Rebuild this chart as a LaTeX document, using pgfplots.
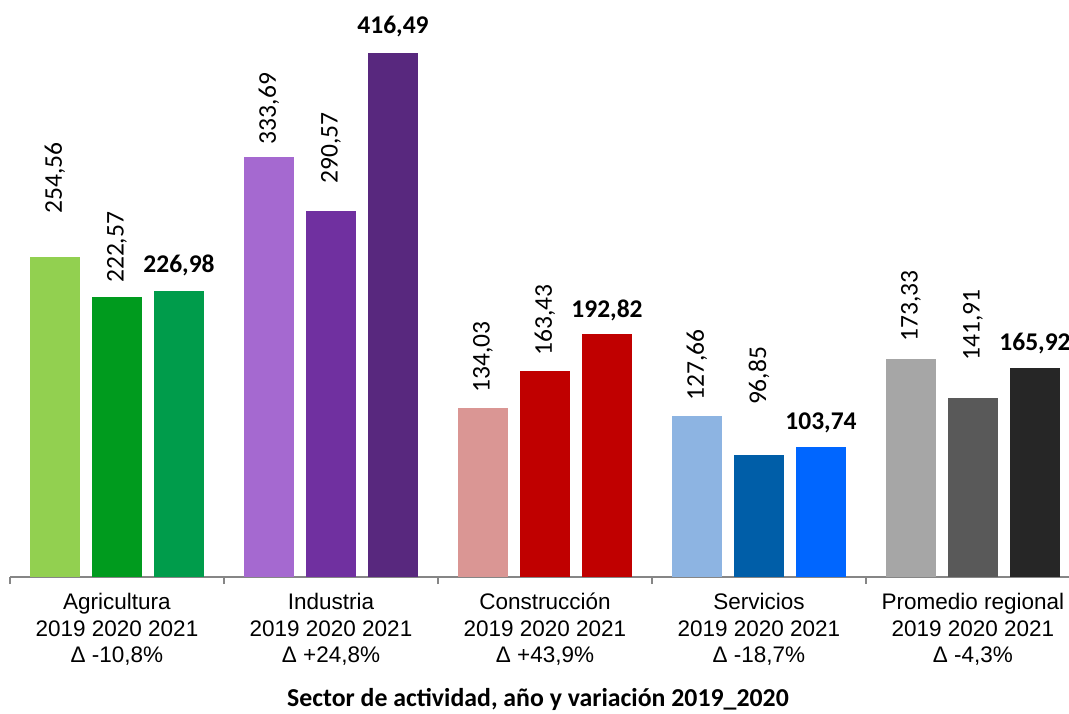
\documentclass[border=0pt]{standalone}
\usepackage{pgfplots}
\pgfplotsset{compat=1.18}
\usepackage{fontspec}
\setmainfont{Liberation Sans}
\newfontfamily\calib{Carlito}
\definecolor{axgray}{RGB}{134,134,134}
\definecolor{agA}{RGB}{146,208,80}
\definecolor{agB}{RGB}{0,155,30}
\definecolor{agC}{RGB}{0,156,75}
\definecolor{inA}{RGB}{165,105,208}
\definecolor{inB}{RGB}{112,48,160}
\definecolor{inC}{RGB}{88,40,126}
\definecolor{coA}{RGB}{218,150,148}
\definecolor{coB}{RGB}{192,0,0}
\definecolor{coC}{RGB}{192,0,0}
\definecolor{seA}{RGB}{141,180,226}
\definecolor{seB}{RGB}{0,94,168}
\definecolor{seC}{RGB}{0,102,255}
\definecolor{prA}{RGB}{166,166,166}
\definecolor{prB}{RGB}{89,89,89}
\definecolor{prC}{RGB}{38,38,38}
\pgfplotsset{
  mybar/.style={ybar, bar width=0.2336, bar shift=0pt, fill=#1, draw=none},
  myrot/.style={nodes near coords, every node near coord/.append style={font=\calib\fontsize{25.5}{30}\selectfont, rotate=90, anchor=west, inner ysep=0pt, inner xsep=#1, text=black}},
  myhor/.style={nodes near coords, every node near coord/.append style={font=\calib\bfseries\fontsize{25.5}{30}\selectfont, anchor=base, inner sep=0pt, yshift=#1, text=black}},
}
\begin{document}
\begin{tikzpicture}
\begin{axis}[
  at={(10pt,136pt)}, anchor=south west,
  scale only axis, width=1070pt, height=553.5pt,
  xmin=-0.5, xmax=4.5, ymin=0, ymax=440,
  clip=false,
  hide y axis,
  axis x line*=bottom,
  axis line style={draw=axgray, line width=1.5pt},
  xtick={0,...,4},
  xticklabels={{Agricultura\\2019 2020 2021\\Δ -10,8\%},{Industria\\2019 2020 2021\\Δ +24,8\%},{Construcción\\2019 2020 2021\\Δ +43,9\%},{Servicios\\2019 2020 2021\\Δ -18,7\%},{Promedio regional\\2019 2020 2021\\Δ -4,3\%}},
  minor xtick={-0.5,0.5,...,4.5},
  tick align=outside,
  major tick length=0pt,
  minor tick length=7pt,
  tick style={draw=axgray, line width=1.5pt},
  xticklabel style={font=\fontsize{22.5}{26.5}\selectfont, align=center, anchor=north, inner sep=0pt, yshift=-16pt},
  xlabel={Sector de actividad, año y variación 2019\_2020},
  xlabel style={font=\calib\bfseries\fontsize{25.8}{30}\selectfont, at={(axis description cs:0.5,0)}, anchor=base, yshift=-129pt, xshift=-7pt},
  /pgf/number format/.cd, fixed, fixed zerofill, precision=2, use comma, 1000 sep={}, assume math mode=true,
]
\addplot[mybar=agA, myrot=43pt] coordinates {(-0.29,254.56)};
\addplot[mybar=agB, myrot=14pt] coordinates {(0,222.57)};
\addplot[mybar=agC, myhor=19pt] coordinates {(0.29,226.98)};
\addplot[mybar=inA, myrot=13pt] coordinates {(0.71,333.69)};
\addplot[mybar=inB, myrot=28pt] coordinates {(1,290.57)};
\addplot[mybar=inC, myhor=20pt] coordinates {(1.29,416.49)};
\addplot[mybar=coA, myrot=16pt] coordinates {(1.71,134.03)};
\addplot[mybar=coB, myrot=16pt] coordinates {(2,163.43)};
\addplot[mybar=coC, myhor=17pt] coordinates {(2.29,192.82)};
\addplot[mybar=seA, myrot=16pt] coordinates {(2.71,127.66)};
\addplot[mybar=seB, myrot=50pt] coordinates {(3,96.85)};
\addplot[mybar=seC, myhor=17pt] coordinates {(3.29,103.74)};
\addplot[mybar=prA, myrot=17pt] coordinates {(3.71,173.33)};
\addplot[mybar=prB, myrot=38pt] coordinates {(4,141.91)};
\addplot[mybar=prC, myhor=18pt] coordinates {(4.29,165.92)};
\end{axis}
\pgfresetboundingbox
\useasboundingbox (0,0) rectangle (1069pt,713pt);
\end{tikzpicture}
\end{document}
